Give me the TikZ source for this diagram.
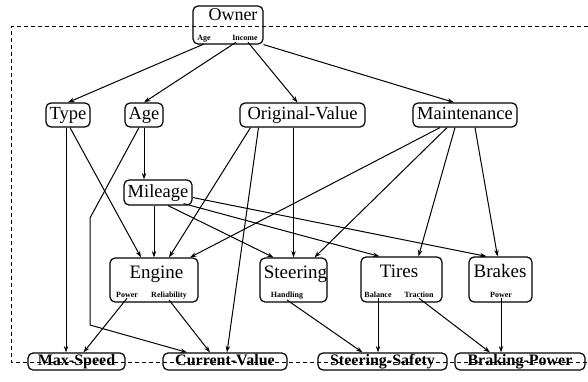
\documentclass[tikz,border=0pt]{standalone}
\usepackage{fontspec}
\setmainfont{Liberation Serif}
\usetikzlibrary{arrows.meta}
\begin{document}
\begin{tikzpicture}[x=1pt,y=-1pt,
  box/.style={draw, line width=1.2pt, rounded corners=5pt, inner sep=0pt},
  simple/.style={box, font=\fontsize{18.5}{18.5}\selectfont, minimum height=24pt, text height=13pt, text depth=4pt},
  bottom/.style={box, font=\bfseries\fontsize{16}{16}\selectfont, minimum height=17pt, text height=12pt, text depth=3.5pt},
  ttl/.style={anchor=base, inner sep=0pt, font=\fontsize{19}{19}\selectfont},
  attr/.style={anchor=base, inner sep=1pt, font=\bfseries\fontsize{8}{8}\selectfont},
  arr/.style={-{Stealth[length=6.5pt,width=4.5pt]}, line width=1pt},
  frame/.style={dash pattern=on 4pt off 3pt, line width=1pt}
]
\useasboundingbox (0,0) rectangle (588,382);
% dashed frame
\draw[frame] (588,27) -- (11,27) -- (11,362) -- (588,362);

% Owner
\node[box, minimum width=70pt, minimum height=38pt] (owner) at (228,25) {};
\node[ttl, font=\fontsize{18}{18}\selectfont] (ownT) at (233,20.5) {Owner};
\node[attr] (ownAge) at (204,41) {Age};
\node[attr] (ownInc) at (245,41) {Income};

% top row
\node[simple, minimum width=44pt] (type) at (68,115) {Type};
\node[simple, minimum width=38pt] (age) at (144,115) {Age};
\node[simple, minimum width=125pt] (origval) at (302.5,115) {Original-Value};
\node[simple, minimum width=104pt] (maint) at (465,115) {Maintenance};
\node[simple, minimum width=68pt, minimum height=25pt] (mileage) at (158,192.5) {Mileage};

% component boxes
\node[box, minimum width=88pt, minimum height=44pt] (engine) at (154,280) {};
\node[ttl] (engT) at (156.5,278) {Engine};
\node[attr] (engPow) at (127,297) {Power};
\node[attr] (engRel) at (169,297) {Reliability};

\node[box, minimum width=67pt, minimum height=44pt] (steering) at (293.5,280) {};
\node[ttl] (steT) at (295.5,278) {Steering};
\node[attr] (steHand) at (287,297) {Handling};

\node[box, minimum width=81pt, minimum height=45pt] (tires) at (401.5,279.5) {};
\node[ttl] (tirT) at (399,277) {Tires};
\node[attr] (tirBal) at (378,297) {Balance};
\node[attr] (tirTrac) at (419,297) {Traction};

\node[box, minimum width=63pt, minimum height=45pt] (brakes) at (500.5,279.5) {};
\node[ttl] (brkT) at (500,277) {Brakes};
\node[attr] (brkPow) at (501,297) {Power};

% bottom row
\node[bottom, minimum width=97pt] (maxspeed) at (76.5,361.5) {Max-Speed};
\node[bottom, minimum width=124pt] (curval) at (225,361.5) {Current-Value};
\node[bottom, minimum width=129pt] (sts) at (382.5,361.5) {Steering-Safety};
\node[bottom, minimum width=130pt] (brp) at (520,361.5) {Braking-Power};

% bends
\coordinate (bendA) at (90,218);
\coordinate (bendB) at (90,325);

% Owner edges
\draw[arr] (ownAge.south) -- (type.north);
\draw[arr] ([xshift=-9]ownInc.south) -- (age.north);
\draw[arr] ([xshift=3]ownInc.south) -- ([xshift=-5]origval.north);
\draw[arr] (owner.south east) -- ([xshift=-11]maint.north);

% Type
\draw[arr] ([xshift=-2]type.south) -- ([xshift=-10.5]maxspeed.north);
\draw[arr] ([xshift=2]type.south) -- ([xshift=-13]engine.north);

% Age
\draw[arr] (age.south) -- (age.south |- mileage.north);
\draw[arr] ([xshift=-5]age.south) -- (bendA) -- (bendB) -- ([xshift=-38]curval.north);

% Mileage
\draw[arr] (mileage.south -| engine.north) -- (engine.north);
\draw[arr] ([xshift=10]mileage.south) -- ([xshift=-20]steering.north);
\draw[arr] ([xshift=-9,yshift=2]mileage.south east) -- ([xshift=-22]tires.north);
\draw[arr] ([yshift=-5]mileage.east) -- ([xshift=-14]brakes.north);

% Original-Value
\draw[arr] ([xshift=-52]origval.south) -- ([xshift=15]engine.north);
\draw[arr] ([xshift=-44]origval.south) -- ([xshift=2]curval.north);
\draw[arr] (origval.south -| steering.north) -- (steering.north);

% Maintenance
\draw[arr] ([xshift=-25]maint.south) -- ([xshift=36]engine.north);
\draw[arr] ([xshift=-18]maint.south) -- ([xshift=21]steering.north);
\draw[arr] ([xshift=-10]maint.south) -- ([xshift=17]tires.north);
\draw[arr] ([xshift=10]maint.south) -- ([xshift=-3]brakes.north);

% to bottom row
\draw[arr] (engPow.south) -- ([xshift=7]maxspeed.north);
\draw[arr] (engRel.south) -- ([xshift=-15]curval.north);
\draw[arr] (steHand.south) -- ([xshift=-20]sts.north);
\draw[arr] (tirBal.south) -- (tirBal.south |- sts.north);
\draw[arr] (tirTrac.south) -- ([xshift=-30]brp.north);
\draw[arr] (brkPow.south) -- (brkPow.south |- brp.north);
\end{tikzpicture}
\end{document}
